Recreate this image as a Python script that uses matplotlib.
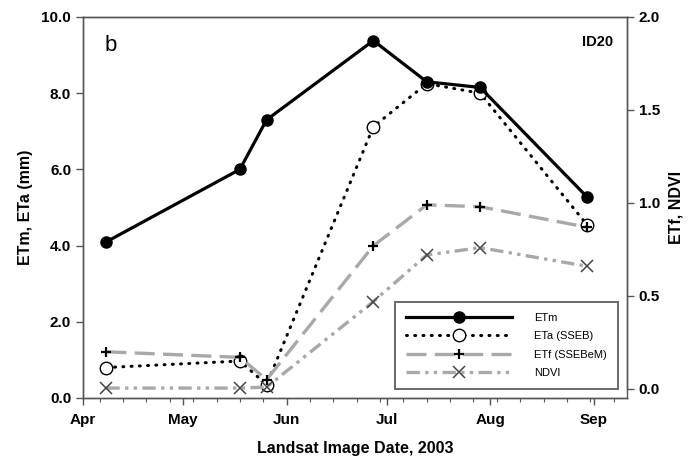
import numpy as np
import matplotlib
matplotlib.use('Agg')
import matplotlib.pyplot as plt
import matplotlib.dates as mdates
from datetime import date

plt.rcParams['font.family'] = ['Liberation Sans', 'DejaVu Sans']

# Landsat image dates, 2003
dates = [date(2003, 4, 8), date(2003, 5, 18), date(2003, 5, 26), date(2003, 6, 27),
         date(2003, 7, 13), date(2003, 7, 29), date(2003, 8, 30)]
etm = [4.1, 6.0, 7.3, 9.38, 8.3, 8.15, 5.28]
eta = [0.8, 0.97, 0.35, 7.12, 8.25, 8.0, 4.55]
etf = [0.2, 0.17, 0.05, 0.77, 0.99, 0.98, 0.87]
ndvi = [0.005, 0.005, 0.01, 0.47, 0.72, 0.76, 0.66]

fig = plt.figure(figsize=(6.92, 4.69), dpi=100)
ax = fig.add_axes([0.12, 0.1514, 0.786, 0.8124])
ax2 = ax.twinx()

gray = '#a8a8a8'
l1, = ax.plot(dates, etm, '-', color='black', lw=2.3, marker='o', ms=8,
              mfc='black', mec='black', zorder=6, label='ETm')
l2, = ax.plot(dates, eta, color='black', lw=2.2, ls=(0, (0.3, 2.4)), marker='o', ms=9,
              mfc='white', mec='black', mew=1.0, zorder=5, label='ETa (SSEB)',
              dash_capstyle='round')
l3, = ax2.plot(dates, etf, color=gray, lw=2.4, ls=(0, (6, 2.5)), marker='+', ms=7,
               mec='black', mew=1.6, zorder=4, label='ETf (SSEBeM)')
l4, = ax2.plot(dates, ndvi, color=gray, lw=2.4, ls=(0, (4, 1.6, 1, 1.6, 1, 1.6)),
               marker='x', ms=9, mec='#444444', mew=1.1, zorder=3, label='NDVI')

ax.set_xlim(date(2003, 4, 1), date(2003, 9, 11))
ax.set_ylim(0, 10)
ax2.set_ylim(-2 * 9 / 372, 2.0)
ax2.spines['right'].set_bounds(0, 2.0)

ax.xaxis.set_major_locator(mdates.MonthLocator())
ax.xaxis.set_major_formatter(mdates.DateFormatter('%b'))
ax.xaxis.set_minor_locator(mdates.WeekdayLocator(byweekday=mdates.SU))
ax.set_yticks(np.arange(0, 10.1, 2))
ax.set_yticklabels(['%.1f' % v for v in np.arange(0, 10.1, 2)])
ax2.set_yticks(np.arange(0, 2.01, 0.5))
ax2.set_yticklabels(['%.1f' % v for v in np.arange(0, 2.01, 0.5)])

for a in (ax, ax2):
    for s in a.spines.values():
        s.set_color('#555555')
        s.set_linewidth(1.0)
ax.tick_params(axis='both', which='major', direction='out', length=5, width=1,
               color='#555555', labelsize=11)
ax.tick_params(axis='x', which='minor', direction='out', length=3, width=0.8, color='#555555')
ax.tick_params(axis='x', which='major', pad=6)
ax2.tick_params(axis='y', direction='out', length=5, width=1, color='#555555', labelsize=11)
for lab in ax.get_xticklabels() + ax.get_yticklabels() + ax2.get_yticklabels():
    lab.set_fontweight('bold')

ax.set_xlabel('Landsat Image Date, 2003', fontsize=11.5, fontweight='bold', labelpad=10)
ax.set_ylabel('ETm, ETa (mm)', fontsize=11.5, fontweight='bold', labelpad=6)
ax2.set_ylabel('ETf, NDVI', fontsize=11.5, fontweight='bold', labelpad=6)

ax.text(0.04, 0.925, 'b', transform=ax.transAxes, fontsize=16, va='center')
ax.text(0.975, 0.935, 'ID20', transform=ax.transAxes, fontsize=10.5,
        fontweight='bold', ha='right', va='center')

leg = ax2.legend(handles=[l1, l2, l3, l4], loc='lower right',
                 bbox_to_anchor=(0.9835, 0.0236), fontsize=8, frameon=True,
                 fancybox=False, handlelength=9.5, handletextpad=2.0,
                 borderpad=1.0, labelspacing=0.75, borderaxespad=0)
leg.get_frame().set_edgecolor('#444444')
leg.get_frame().set_linewidth(1.4)
leg.set_zorder(10)

fig.savefig('out.png', dpi=100)
